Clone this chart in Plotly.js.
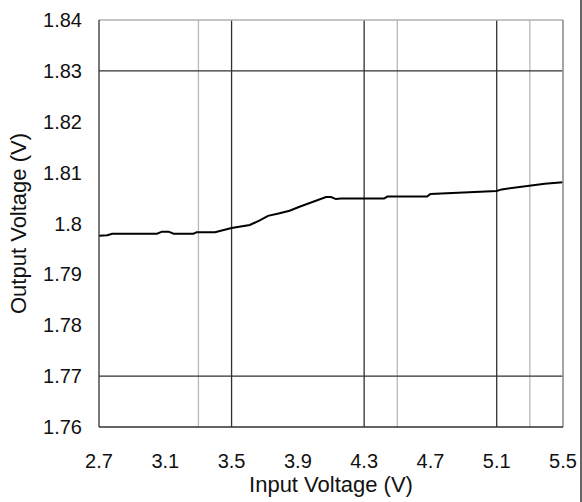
<!DOCTYPE html>
<html>
<head>
<meta charset="utf-8">
<script src="https://cdn.plot.ly/plotly-3.0.1.min.js"></script>
<style>html,body{margin:0;padding:0;background:#fff;}#chart{width:582px;height:502px;}</style>
</head>
<body>
<div id="chart"></div>
<script>
const inputVoltage = [2.70, 2.75, 2.78, 3.05, 3.08, 3.12, 3.15, 3.27, 3.29, 3.40, 3.50, 3.58, 3.61, 3.67, 3.72, 3.79, 3.85, 3.91, 3.97, 4.03, 4.07, 4.10, 4.13, 4.16, 4.42, 4.44, 4.68, 4.70, 4.91, 5.02, 5.10, 5.13, 5.18, 5.27, 5.39, 5.50];
const outputVoltage = [1.7976, 1.7977, 1.7980, 1.7980, 1.7984, 1.7984, 1.7980, 1.7980, 1.7983, 1.7983, 1.7991, 1.7995, 1.7997, 1.8006, 1.8015, 1.8020, 1.8025, 1.8033, 1.8040, 1.8048, 1.8052, 1.8052, 1.8048, 1.8049, 1.8049, 1.8053, 1.8053, 1.8058, 1.8061, 1.8063, 1.8064, 1.8067, 1.8069, 1.8074, 1.8078, 1.8081];
const xTicks = [2.7, 3.1, 3.5, 3.9, 4.3, 4.7, 5.1, 5.5];
const yTicks = [1.76, 1.77, 1.78, 1.79, 1.8, 1.81, 1.82, 1.83, 1.84];
const xTickText = ['2.7', '3.1', '3.5', '3.9', '4.3', '4.7', '5.1', '5.5'];
const yTickText = ['1.76', '1.77', '1.78', '1.79', '1.8', '1.81', '1.82', '1.83', '1.84'];
const xDarkGrid = [3.5, 4.3, 5.1];
const xLightGrid = [3.3, 4.5, 5.3];
const yDarkGrid = [1.77, 1.83];

const shapes = [];
xLightGrid.forEach(v => shapes.push({type:'line', xref:'x', yref:'paper', x0:v, x1:v, y0:0, y1:1, line:{color:'#b8b8b8', width:1.3}, layer:'below'}));
xDarkGrid.forEach(v => shapes.push({type:'line', xref:'x', yref:'paper', x0:v, x1:v, y0:0, y1:1, line:{color:'#303030', width:1.3}, layer:'below'}));
yDarkGrid.forEach(v => shapes.push({type:'line', xref:'paper', yref:'y', x0:0, x1:1, y0:v, y1:v, line:{color:'#303030', width:1.3}, layer:'below'}));
shapes.push({type:'line', xref:'paper', yref:'paper', x0:0, x1:1, y0:1, y1:1, line:{color:'#b0b0b0', width:1.3}});
shapes.push({type:'line', xref:'paper', yref:'paper', x0:1, x1:1, y0:0, y1:1, line:{color:'#909090', width:1.6}});
shapes.push({type:'line', xref:'paper', yref:'paper', x0:0, x1:0, y0:0, y1:1, line:{color:'#303030', width:1.3}});
shapes.push({type:'line', xref:'paper', yref:'paper', x0:0, x1:1, y0:0, y1:0, line:{color:'#303030', width:1.3}});
// outer image border on the right edge
shapes.push({type:'line', xref:'paper', yref:'paper', x0:(581-99)/464, x1:(581-99)/464, y0:-75/407, y1:482/407, line:{color:'#333', width:1.5}});

const fam = 'Liberation Sans, Arial, sans-serif';
const tickFont = {family:fam, size:20, color:'#111'};
const titleFont = {family:fam, size:22, color:'#111'};

Plotly.newPlot('chart', [{
  x: inputVoltage, y: outputVoltage, type:'scatter', mode:'lines',
  line:{color:'#000', width:2}, hoverinfo:'skip'
}], {
  width:582, height:502,
  margin:{l:99, r:19, t:20, b:75},
  paper_bgcolor:'#fff', plot_bgcolor:'#fff',
  showlegend:false,
  font:{family:fam, size:20, color:'#111'},
  xaxis:{range:[2.7, 5.5], tickvals:xTicks, ticktext:xTickText, showgrid:false, zeroline:false, showline:false,
    ticks:'', ticklabelstandoff:20, tickfont:tickFont, automargin:false,
    title:{text:'Input Voltage (V)', font:titleFont, standoff:3}},
  yaxis:{range:[1.76, 1.84], tickvals:yTicks, ticktext:yTickText, showgrid:false, zeroline:false, showline:false,
    ticks:'', ticklabelstandoff:16, tickfont:tickFont, automargin:false,
    title:{text:'Output Voltage (V)', font:titleFont, standoff:10}},
  shapes: shapes
}, {staticPlot:true});
</script>
</body>
</html>
